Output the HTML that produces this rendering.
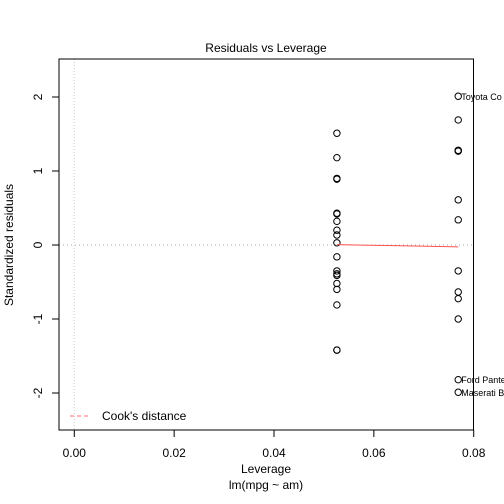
<!DOCTYPE html>
<html><head><meta charset="utf-8"><style>
body{margin:0;background:#fff}
svg{display:block;font-family:"Liberation Sans",Arial,sans-serif}
</style></head><body>
<svg id="c" width="504" height="504" xmlns="http://www.w3.org/2000/svg">
<rect width="504" height="504" fill="#fff"/>
<text x="266" y="52" font-size="12" text-anchor="middle">Residuals vs Leverage</text>
<g id="axes"></g>
<g id="marks"></g>
<rect x="59" y="59" width="414.5" height="371" fill="none" stroke="#000"/>
<text x="266" y="473" font-size="12" text-anchor="middle">Leverage</text>
<text x="266" y="489" font-size="12" text-anchor="middle">lm(mpg ~ am)</text>
<text transform="translate(13,245) rotate(-90)" font-size="12" text-anchor="middle">Standardized residuals</text>
<g>
<line x1="70" y1="416" x2="91" y2="416" stroke="#ff6b6b" stroke-dasharray="4,3"/>
<text x="102" y="420" font-size="12">Cook's distance</text>
</g>
</svg>
<script>
const xTicks=[0,0.02,0.04,0.06,0.08];
const xTickLabels=["0.00","0.02","0.04","0.06","0.08"];
const yTicks=[-2,-1,0,1,2];
const yTickLabels=["-2","-1","0","1","2"];
const leverage0=0.0526;
const leverage1=0.0769;
const resid0=[1.51,1.18,0.90,0.89,0.43,0.42,0.32,0.20,0.135,0.03,-0.16,-0.35,-0.39,-0.41,-0.52,-0.60,-0.81,-1.42,-1.42];
const resid1=[2.01,1.69,1.27,1.28,1.27,0.61,0.34,-0.35,-0.635,-0.725,-1.0,-1.82,-1.99];
const labelNames=["Toyota Co","Ford Pante","Maserati B"];
const labelResid=[2.01,-1.82,-1.99];
const smoothX=[0.0526,0.0769];
const smoothY=[0.005,-0.025];
const X=v=>74.3+v*4992.5;
const Y=v=>245-v*74;
const NS="http://www.w3.org/2000/svg";
function mk(tag,attrs,parent){const e=document.createElementNS(NS,tag);for(const k in attrs)e.setAttribute(k,attrs[k]);parent.appendChild(e);return e;}
const ax=document.getElementById('axes'),mk2=document.getElementById('marks');
// reference lines
let l=mk('line',{x1:X(0),x2:X(0),y1:59,y2:430,stroke:'#ccc','stroke-dasharray':'1,2'},ax);


l=mk('line',{x1:59,x2:473.5,y1:Y(0),y2:Y(0),stroke:'#aaa','stroke-dasharray':'1,3'},ax);


xTicks.forEach((t,i)=>{
 const tk=mk('line',{x1:X(t),x2:X(t),y1:430,y2:437,stroke:'#000'},ax);
 
 
 const tx=mk('text',{x:X(t),y:457,'font-size':12,'text-anchor':'middle'},ax);tx.textContent=xTickLabels[i];
 
 
});
yTicks.forEach((t,i)=>{
 const tk=mk('line',{x1:52,x2:59,y1:Y(t),y2:Y(t),stroke:'#000'},ax);
 
 
 const tx=mk('text',{transform:`translate(42,${Y(t)}) rotate(-90)`,'font-size':12,'text-anchor':'middle'},ax);tx.textContent=yTickLabels[i];
 
 
});
function pt(x,y){const c=mk('circle',{cx:X(x),cy:Y(y),r:3.2,fill:'none',stroke:'#000','stroke-width':1},mk2);
 
 }
resid0.forEach(v=>pt(leverage0,v));
resid1.forEach(v=>pt(leverage1,v));
const sm=mk('polyline',{points:smoothX.map((x,i)=>X(x)+','+Y(smoothY[i])).join(' '),fill:'none',stroke:'#ff5050','stroke-width':1},mk2);


labelNames.forEach((n,i)=>{const t=mk('text',{x:X(leverage1)+3,y:Y(labelResid[i])+3.5,'font-size':9},mk2);t.textContent=n;
 
 });
</script>
</body></html>
